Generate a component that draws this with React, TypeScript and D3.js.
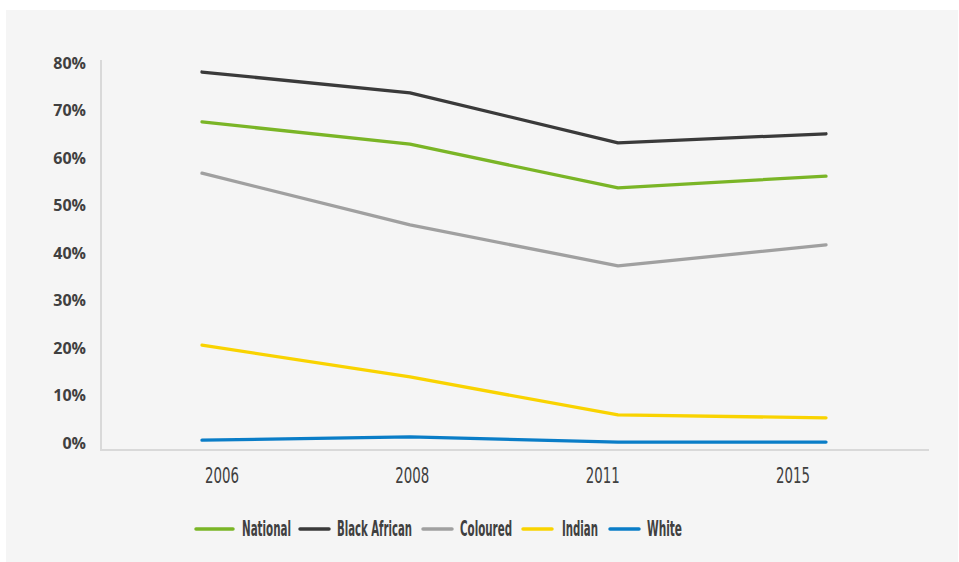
import React, { useLayoutEffect, useRef, useState } from "react";
import * as d3 from "d3";

const years = ["2006", "2008", "2011", "2015"];
const national = [67.6, 62.9, 53.7, 56.2];
const blackAfrican = [78.1, 73.7, 63.2, 65.1];
const coloured = [56.8, 45.9, 37.3, 41.7];
const indian = [20.6, 13.9, 5.9, 5.3];
const white = [0.6, 1.3, 0.2, 0.2];
const yTicks = [0, 10, 20, 30, 40, 50, 60, 70, 80];

const seriesNames = ["National", "Black African", "Coloured", "Indian", "White"];
const seriesColors = ["#7ab526", "#3a3a3a", "#a0a0a0", "#f9d300", "#0a7dc7"];
const seriesValues = [national, blackAfrican, coloured, indian, white];

const W = 959;
const H = 562;

function FitText(props: {
  x: number;
  y: number;
  width: number;
  fontSize: number;
  fontWeight?: number;
  children: string;
}) {
  const ref = useRef<SVGTextElement>(null);
  const [sx, setSx] = useState(0.5);
  useLayoutEffect(() => {
    if (ref.current) {
      const w = ref.current.getComputedTextLength();
      if (w > 0) setSx(props.width / w);
    }
  }, [props.width, props.children]);
  return (
    <text
      ref={ref}
      transform={`translate(${props.x},${props.y}) scale(${sx},1)`}
      dy="0.36em"
      fontFamily="'DejaVu Sans', sans-serif"
      fontWeight={props.fontWeight ?? 400}
      fontSize={props.fontSize}
      fill="#404040"
    >
      {props.children}
    </text>
  );
}

export default function App() {
  const xLine = d3.scalePoint<string>().domain(years).range([202, 826]);
  const xLabel = d3.scalePoint<string>().domain(years).range([222, 793]);
  const y = d3.scaleLinear().domain([0, 80]).range([443, 63]);
  const line = d3
    .line<number>()
    .x((_, i) => xLine(years[i]) as number)
    .y((v) => y(v));

  const legendItems = [
    { sx: 196, sw: 37, tx: 242, tw: 49 },
    { sx: 300, sw: 29, tx: 337, tw: 75 },
    { sx: 423, sw: 29, tx: 460, tw: 52 },
    { sx: 523, sw: 29, tx: 562, tw: 36 },
    { sx: 610, sw: 29, tx: 647, tw: 35 },
  ];

  return (
    <svg
      width={W}
      height={H}
      style={{ position: "absolute", left: 0, top: 0, display: "block" }}
    >
      <rect x={0} y={0} width={W} height={H} fill="#ffffff" />
      <rect x={6} y={10} width={952} height={552} fill="#f5f5f5" />
      <line x1={101} y1={60} x2={101} y2={450} stroke="#d9d9d9" strokeWidth={2} />
      <line x1={100} y1={450} x2={929} y2={450} stroke="#d9d9d9" strokeWidth={2} />
      {yTicks.map((t) => (
        <text
          key={t}
          x={86}
          y={y(t)}
          dy="0.36em"
          textAnchor="end"
          fontFamily="'Open Sans', sans-serif"
          fontWeight={700}
          fontSize={16}
          fill="#404040"
        >
          {t}%
        </text>
      ))}
      {years.map((yr) => (
        <FitText
          key={yr}
          x={(xLabel(yr) as number) - 17}
          y={476}
          width={34}
          fontSize={20.5}
        >
          {yr}
        </FitText>
      ))}
      {seriesValues.map((vals, i) => (
        <path
          key={seriesNames[i]}
          d={line(vals) || ""}
          fill="none"
          stroke={seriesColors[i]}
          strokeWidth={3.3}
          strokeLinecap="round"
          strokeLinejoin="round"
        />
      ))}
      {seriesNames.map((name, i) => (
        <g key={name}>
          <line
            x1={legendItems[i].sx}
            x2={legendItems[i].sx + legendItems[i].sw}
            y1={529}
            y2={529}
            stroke={seriesColors[i]}
            strokeWidth={3.5}
            strokeLinecap="round"
          />
          <FitText
            x={legendItems[i].tx}
            y={529}
            width={legendItems[i].tw}
            fontSize={20.5}
            fontWeight={700}
          >
            {name}
          </FitText>
        </g>
      ))}
    </svg>
  );
}
